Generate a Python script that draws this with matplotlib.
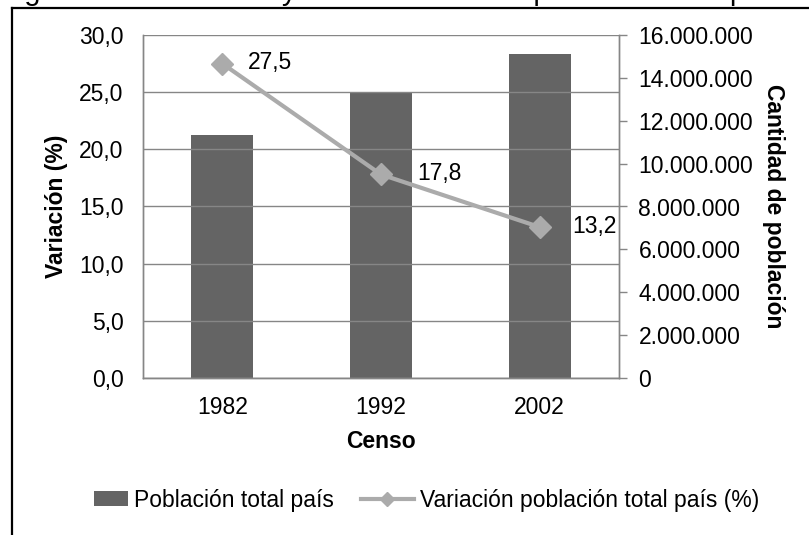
import matplotlib
matplotlib.use("Agg")
import matplotlib.pyplot as plt
from matplotlib.lines import Line2D
from matplotlib.patches import Patch, Rectangle
from matplotlib.legend_handler import HandlerPatch

plt.rcParams['font.family'] = ['Liberation Sans', 'DejaVu Sans']

# data
censos = ['1982', '1992', '2002']
poblacion = [11329736, 13348401, 15116435]
variacion = [27.5, 17.8, 13.2]
var_labels = ['27,5', '17,8', '13,2']

bar_color = '#646464'
line_color = '#ABABAB'
grid_color = '#868686'
fs = 16.5

W, H = 809, 535
fig = plt.figure(figsize=(W / 100, H / 100), dpi=100)

# outer frame (cut by the image edges)
fig.add_artist(Line2D([12 / W, 12 / W], [0, 1 - 8 / H], transform=fig.transFigure, color='black', lw=1.6))
fig.add_artist(Line2D([12 / W, 1], [1 - 8 / H, 1 - 8 / H], transform=fig.transFigure, color='black', lw=1.6))

# clipped caption at the very top
fig.text(0 / W, 1 - 0.5 / H, 'Figura 1.3: Evolución y crecimiento de la población total país',
         fontsize=21, ha='left', va='baseline')

ax = fig.add_axes([143 / W, (H - 378) / H, 476 / W, 343 / H])
ax2 = ax.twinx()

x = list(range(len(censos)))

# bars on the right axis (population)
ax2.bar(x, poblacion, width=0.39, color=bar_color, zorder=2)
ax2.set_ylim(0, 16000000)
ax2.set_yticks(range(0, 16000001, 2000000))
ax2.set_yticklabels(['0' if v == 0 else f'{v:,}'.replace(',', '.') for v in range(0, 16000001, 2000000)],
                    fontsize=fs)
ax2.tick_params(axis='y', direction='out', length=6, color=grid_color, width=1, pad=8)
fig.text(773 / W, 1 - 206 / H, 'Cantidad de población', fontsize=fs, fontweight='bold',
         rotation=-90, ha='center', va='center')

# line on the left axis (variation)
ax.set_ylim(0, 30)
ax.set_xlim(-0.5, 2.5)
ax.set_yticks([0, 5, 10, 15, 20, 25, 30])
ax.set_yticklabels([f'{v:.1f}'.replace('.', ',') for v in [0, 5, 10, 15, 20, 25, 30]], fontsize=fs)
ax.tick_params(axis='y', length=0, pad=14)
ax.set_xticks(x)
ax.set_xticklabels(censos, fontsize=fs)
ax.tick_params(axis='x', length=0, pad=13)
ax.set_xlabel('Censo', fontsize=fs, fontweight='bold', labelpad=8)
ax.set_ylabel('Variación (%)', fontsize=fs, fontweight='bold', labelpad=8)
ax.grid(axis='y', color=grid_color, lw=1)
ax.set_axisbelow(True)

# put the line axis on top of the bars
ax.set_zorder(ax2.get_zorder() + 1)
ax.patch.set_visible(False)
ax2.patch.set_visible(True)
ax2.patch.set_facecolor('white')

ax.plot(x, variacion, color=line_color, lw=3, marker='D', ms=11, zorder=3, clip_on=False)
label_dx = [26, 36, 33]
for xi, v, lab, dx in zip(x, variacion, var_labels, label_dx):
    ax.annotate(lab, (xi, v), xytext=(dx, 1), textcoords='offset pixels',
                fontsize=fs, ha='left', va='center')

for a in (ax, ax2):
    a.spines['top'].set_visible(False)
    for s in ('left', 'right', 'bottom'):
        a.spines[s].set_color(grid_color)
        a.spines[s].set_linewidth(1)


def short_patch(legend, orig_handle, xdescent, ydescent, width, height, fontsize):
    w = width * 0.64
    return Rectangle((-xdescent + width - w, -ydescent), w, height)


handles = [Patch(facecolor=bar_color, edgecolor='none'),
           Line2D([], [], color=line_color, lw=3, marker='D', ms=7)]
fig.legend(handles, ['Población total país', 'Variación población total país (%)'],
           loc='center', bbox_to_anchor=(417 / W, 1 - 500 / H), ncol=2, frameon=False,
           fontsize=fs, handlelength=2.3, handleheight=0.6, handletextpad=0.25, columnspacing=1.2,
           handler_map={Patch: HandlerPatch(patch_func=short_patch)})

fig.savefig('out.png', dpi=100)
